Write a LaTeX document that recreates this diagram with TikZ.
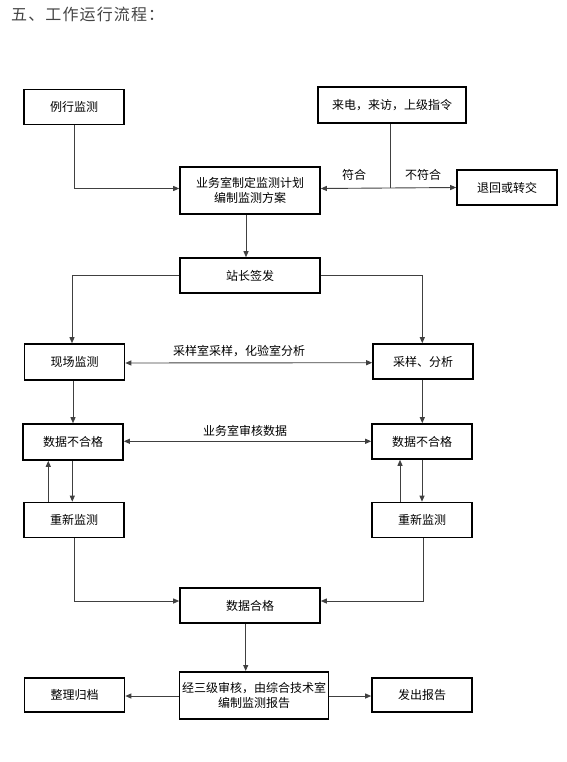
\documentclass[tikz,border=0pt]{standalone}
\usepackage{fontspec}
\newfontfamily\cjk{Noto Sans CJK SC}
\newfontfamily\cjktitle[LetterSpace=7]{Noto Sans CJK SC}
\usetikzlibrary{arrows.meta}
\definecolor{titlegray}{HTML}{444444}
\definecolor{linegray}{HTML}{404040}
\begin{document}
\begin{tikzpicture}[x=1pt,y=-1pt,
  box/.style={draw=black,line width=1.6pt,minimum width=100pt,minimum height=35pt,
    inner sep=0pt,align=center,font=\cjk\fontsize{12}{15}\selectfont},
  wide/.style={box,minimum width=140pt},
  conn/.style={draw=linegray,line width=0.9pt,-{Triangle[length=6pt,width=5pt]}},
  plain/.style={draw=linegray,line width=0.9pt},
  both/.style={draw=linegray,line width=0.9pt,{Triangle[length=6pt,width=5pt]}-{Triangle[length=6pt,width=5pt]}},
  lbl/.style={font=\cjk\fontsize{12}{15}\selectfont,inner sep=0pt}]
\useasboundingbox (0,0) rectangle (566,762);
\node[anchor=north west,inner sep=0pt,text=titlegray,font=\cjktitle\fontsize{16}{19}\selectfont] (title) at (11,7) {五、工作运行流程：};

\node[box] (r1) at (74,107) {例行监测};
\node[box,minimum width=148pt,minimum height=36pt] (c1) at (392,105) {来电，来访，上级指令};
\node[wide,minimum height=47pt] (p1) at (250,190.5) {业务室制定监测计划\\编制监测方案};
\node[box] (t1) at (507,187.5) {退回或转交};
\node[wide] (z1) at (250,275.5) {站长签发};
\node[box,minimum height=36pt] (x1) at (74.5,362) {现场监测};
\node[box] (a1) at (423,361.5) {采样、分析};
\node[box,minimum height=36pt] (d1) at (73,442) {数据不合格};
\node[box] (d2) at (422,441.5) {数据不合格};
\node[box] (n1) at (74,520) {重新监测};
\node[box] (n2) at (422,520) {重新监测};
\node[wide] (ok) at (250,605.5) {数据合格};
\node[box,minimum width=149pt,minimum height=47pt] (rep) at (254,695.3) {经三级审核，由综合技术室\\编制监测报告};
\node[box,minimum height=34pt] (ar) at (74.5,695) {整理归档};
\node[box,minimum height=34pt] (fa) at (422,695) {发出报告};

% top
\draw[conn] (r1.south) |- ([yshift=2pt]p1.west);
\coordinate (j) at (c1.south |- t1.west);
\draw[plain] ([xshift=-2pt]c1.south) -- ([xshift=-2pt]j);
\draw[both] ([yshift=2pt]p1.east) -- (t1.west);
\node[lbl] (fh) at (354,175) {符合};
\node[lbl] (bfh) at (423,175) {不符合};

\draw[conn] ([xshift=-4pt]p1.south) -- ([xshift=-4pt]z1.north);
\draw[conn] (z1.west) -| ([xshift=-2.5pt]x1.north);
\draw[conn] (z1.east) -| ([xshift=-0.7pt]a1.north);

\draw[both] ([yshift=-1pt]x1.east) -- ([yshift=-1.2pt]a1.west);
\node[lbl] (cy) at (239,351) {采样室采样，化验室分析};

\draw[conn] (d1.north |- x1.south) -- (d1.north);
\draw[conn] ([xshift=-0.7pt]a1.south) -- ([xshift=-0.7pt]a1.south |- d2.north);

\draw[both] ([yshift=0.7pt]d1.east) -- ([yshift=0.2pt]d2.west);
\node[lbl] (yw) at (245,431) {业务室审核数据};

\draw[conn] ([xshift=-0.7pt]d1.south) -- ([xshift=-0.7pt]d1.south |- n1.north);
\draw[conn] ([xshift=-25.7pt]n1.north) -- ([xshift=-25.7pt]n1.north |- d1.south);
\draw[conn] (d2.south) -- (d2.south |- n2.north);
\draw[conn] ([xshift=-22pt]n2.north) -- ([xshift=-22pt]n2.north |- d2.south);

\draw[conn] (n1.south) |- ([yshift=4.5pt]ok.west);
\draw[conn] ([xshift=1pt]n2.south) |- ([yshift=4.5pt]ok.east);

\draw[conn] ([xshift=-4.3pt]ok.south) -- ([xshift=-4.3pt]ok.south |- rep.north);
\draw[conn] ([yshift=-0.7pt]rep.west) -- ([yshift=-0.7pt]rep.west -| ar.east);
\draw[conn] ([yshift=-0.7pt]rep.east) -- ([yshift=-0.7pt]rep.east -| fa.west);
\end{tikzpicture}
\end{document}
